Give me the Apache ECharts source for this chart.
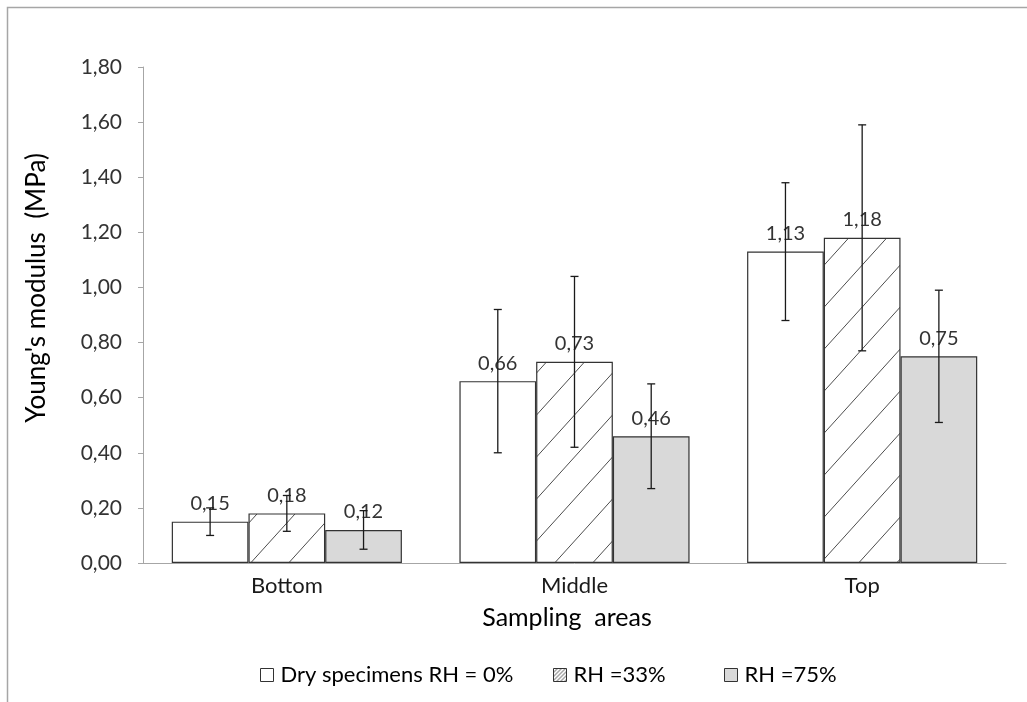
<!DOCTYPE html>
<html>
<head>
<meta charset="utf-8">
<script src="https://cdn.jsdelivr.net/npm/echarts@6/dist/echarts.min.js"></script>
<style>html,body{margin:0;padding:0;background:#fff;}#c{width:1027px;height:702px;}</style>
</head>
<body>
<div id="c"></div>
<script>
const categories = ['Bottom', 'Middle', 'Top'];
const seriesNames = ['Dry specimens RH = 0%', 'RH =33%', 'RH =75%'];
const dryValues = [0.15, 0.66, 1.13];
const rh33Values = [0.18, 0.73, 1.18];
const rh75Values = [0.12, 0.46, 0.75];
const dryErrors = [0.05, 0.26, 0.25];
const rh33Errors = [0.065, 0.31, 0.41];
const rh75Errors = [0.07, 0.19, 0.24];
const yTicks = { min: 0, max: 1.8, interval: 0.2 };

const FONT = 'Lato';
function makeHatch(w, h, bg) {
  const c = document.createElement('canvas');
  c.width = w; c.height = h;
  const g = c.getContext('2d');
  g.fillStyle = bg; g.fillRect(0, 0, w, h);
  g.strokeStyle = '#4d4d4d'; g.lineWidth = 1;
  g.beginPath();
  for (let k = -1; k <= 1; k++) {
    g.moveTo(k * w, h); g.lineTo(k * w + w, 0);
  }
  g.stroke();
  return c;
}
const hatchBig = { image: makeHatch(38, 42, '#ffffff'), repeat: 'repeat' };
const hatchSmall = { image: makeHatch(4, 4, '#ffffff'), repeat: 'repeat' };
const fmt = v => v.toFixed(2).replace('.', ',');

const valueSets = [dryValues, rh33Values, rh75Values];
const errorSets = [dryErrors, rh33Errors, rh75Errors];
const fills = ['#ffffff', hatchBig, '#d9d9d9'];

const barSeries = valueSets.map((vals, i) => ({
  name: seriesNames[i],
  type: 'bar',
  data: vals,
  barGap: '0%',
  barCategoryGap: '20%',
  itemStyle: { color: fills[i], borderColor: '#333333', borderWidth: 1.2 },
  label: {
    show: true, position: 'top', distance: 8,
    formatter: p => fmt(p.value),
    fontFamily: FONT, fontSize: 20, color: '#333333'
  },
  z: 2
}));

const errSeries = valueSets.map((vals, i) => ({
  type: 'custom',
  name: 'err' + i,
  data: vals.map((v, j) => [j, v - errorSets[i][j], v + errorSets[i][j]]),
  z: 5,
  silent: true,
  renderItem: function (params, api) {
    const j = api.value(0);
    const band = api.size([1, 0])[0];
    const bw = band * 0.8 / 3;
    const off = (i - 1) * bw;
    const lo = api.coord([j, api.value(1)]);
    const hi = api.coord([j, api.value(2)]);
    const x = lo[0] + off;
    const cap = 4;
    const st = { stroke: '#1a1a1a', lineWidth: 1.3 };
    return {
      type: 'group',
      children: [
        { type: 'line', shape: { x1: x, y1: lo[1], x2: x, y2: hi[1] }, style: st },
        { type: 'line', shape: { x1: x - cap, y1: lo[1], x2: x + cap, y2: lo[1] }, style: st },
        { type: 'line', shape: { x1: x - cap, y1: hi[1], x2: x + cap, y2: hi[1] }, style: st }
      ]
    };
  }
}));

const legendIcons = [
  { color: '#ffffff', borderColor: '#333333', borderWidth: 1 },
  { color: hatchSmall, borderColor: '#333333', borderWidth: 1 },
  { color: '#d9d9d9', borderColor: '#333333', borderWidth: 1 }
];
const legendLefts = [255, 548, 719];
const legends = seriesNames.map((n, i) => ({
  left: legendLefts[i], top: 659,
  icon: 'rect', itemWidth: 13, itemHeight: 13,
  selectedMode: false,
  data: [{ name: n, itemStyle: legendIcons[i] }],
  textStyle: { fontFamily: FONT, fontSize: 22, color: '#000000', padding: [0, 0, 0, 2] }
}));

const chart = echarts.init(document.getElementById('c'), null, { renderer: 'canvas' });
chart.setOption({
  animation: false,
  backgroundColor: '#ffffff',
  grid: { left: 143, right: 21, top: 67, bottom: 139, containLabel: false },
  legend: legends,
  xAxis: {
    type: 'category',
    data: categories,
    axisLine: { lineStyle: { color: '#a6a6a6', width: 1 } },
    axisTick: { show: false },
    axisLabel: { fontFamily: FONT, fontSize: 22, color: '#1a1a1a', margin: 12 }
  },
  yAxis: {
    type: 'value',
    min: yTicks.min, max: yTicks.max, interval: yTicks.interval,
    splitLine: { show: false },
    axisLine: { show: true, lineStyle: { color: '#a6a6a6', width: 1 } },
    axisTick: { show: true, length: 5, lineStyle: { color: '#a6a6a6' } },
    axisLabel: { fontFamily: FONT, fontSize: 21, color: '#333333', margin: 21, formatter: v => fmt(v) }
  },
  graphic: [
    { type: 'rect', shape: { x: 7.5, y: 7.5, width: 1100, height: 800 }, style: { fill: 'none', stroke: '#a6a6a6', lineWidth: 1.5 }, silent: true, z: -1 },
    { type: 'text', x: 37, y: 288, rotation: Math.PI / 2, style: { text: "Young's modulus  (MPa)", fontFamily: FONT, fontSize: 26, fill: '#000000', align: 'center', verticalAlign: 'middle' } },
    { type: 'text', x: 567, y: 618, style: { text: 'Sampling  areas', fontFamily: FONT, fontSize: 25, fill: '#000000', align: 'center', verticalAlign: 'middle' } }
  ],
  series: barSeries.concat(errSeries)
});
</script>
</body>
</html>
